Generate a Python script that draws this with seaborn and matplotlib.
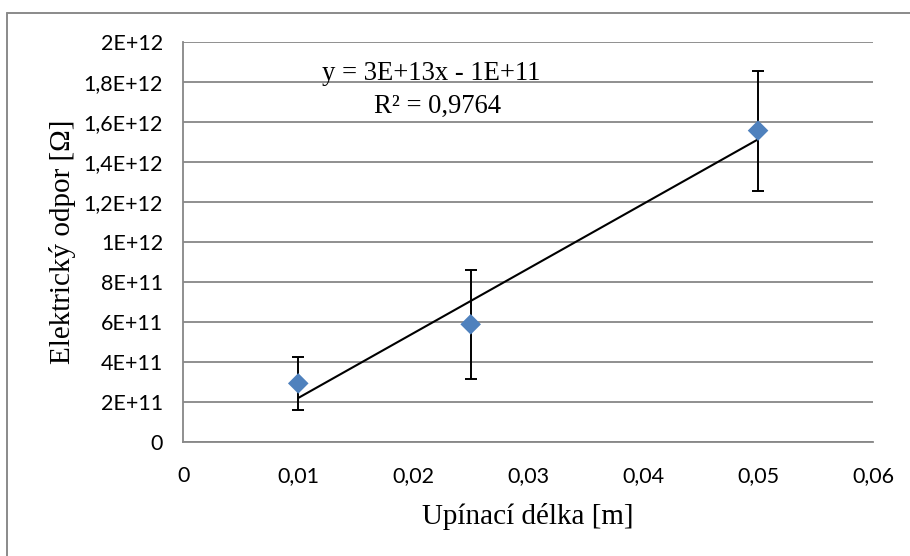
import numpy as np
import pandas as pd
import matplotlib
matplotlib.use("Agg")
import matplotlib.pyplot as plt
from matplotlib.lines import Line2D
import seaborn as sns

# Measured data: clamping length [m] vs. electrical resistance [Ohm]
clamp_length = [0.01, 0.025, 0.05]
resistance = [2.93e11, 5.885e11, 1.557e12]
resistance_err = [1.34e11, 2.72e11, 3.0e11]

x_ticks = [0, 0.01, 0.02, 0.03, 0.04, 0.05, 0.06]
y_ticks = [0, 2e11, 4e11, 6e11, 8e11, 1e12, 1.2e12, 1.4e12, 1.6e12, 1.8e12, 2e12]
y_tick_labels = ["0", "2E+11", "4E+11", "6E+11", "8E+11", "1E+12",
                 "1,2E+12", "1,4E+12", "1,6E+12", "1,8E+12", "2E+12"]
x_tick_labels = ["0", "0,01", "0,02", "0,03", "0,04", "0,05", "0,06"]

eq_text = "y = 3E+13x - 1E+11"
r2_text = "R² = 0,9764"
x_label = "Upínací délka [m]"
y_label = "Elektrický odpor [Ω]"

df = pd.DataFrame({"x": clamp_length, "y": resistance, "err": resistance_err})

sns.set_theme(style="white")
plt.rcParams["font.family"] = ["Lato", "DejaVu Sans"]

W, H = 910, 556
fig = plt.figure(figsize=(W / 100, H / 100), dpi=100)
fig.patch.set_facecolor("white")

# plot area in pixel coordinates
left, right, top, bottom = 183.3, 873.0, 42.0, 442.0
ax = fig.add_axes([left / W, 1 - bottom / H, (right - left) / W, (bottom - top) / H])

grid_col = "#878787"

# linear trendline from a least-squares fit of the measurements
slope, intercept = np.polyfit(df["x"], df["y"], 1)
xs = np.array([min(clamp_length), max(clamp_length)])
ax.plot(xs, slope * xs + intercept, color="black", lw=1.5, zorder=3)

ax.errorbar(df["x"], df["y"], yerr=df["err"], fmt="none", ecolor="black",
            elinewidth=1.4, capsize=4.5, capthick=1.4, zorder=4)

sns.scatterplot(data=df, x="x", y="y", marker="D", s=110, color="#4F81BD",
                edgecolor="none", linewidth=0, ax=ax, zorder=5)

ax.set_xlim(0, 0.06)
ax.set_ylim(0, 2e12)
ax.set_xticks(x_ticks)
ax.set_xticklabels(x_tick_labels)
ax.set_yticks(y_ticks)
ax.set_yticklabels(y_tick_labels)

ax.yaxis.grid(True, color=grid_col, lw=1.3)
ax.xaxis.grid(False)
ax.set_axisbelow(True)

for s in ["top", "right"]:
    ax.spines[s].set_visible(False)
for s in ["left", "bottom"]:
    ax.spines[s].set_color(grid_col)
    ax.spines[s].set_linewidth(1.3)

ax.tick_params(axis="both", which="major", direction="out", length=5.5,
               width=1.0, color=grid_col, labelsize=15.5, labelcolor="black")
ax.tick_params(axis="y", pad=9)
ax.tick_params(axis="x", pad=11.5)

serif = ["Liberation Serif", "DejaVu Serif"]
ax.set_xlabel(x_label, fontsize=21, family=serif, color="black")
ax.set_ylabel(y_label, fontsize=21, family=serif, color="black")
ax.xaxis.set_label_coords(0.5, (bottom - 516) / (bottom - top))
ax.xaxis.label.set_va("center")
ax.yaxis.set_label_coords((63 - left) / (right - left), 0.5)
ax.yaxis.label.set_va("center")

# trendline equation and coefficient of determination
ax.text((431 - left) / (right - left), (bottom - 73.5) / (bottom - top), eq_text,
        transform=ax.transAxes, ha="center", va="center", fontsize=19.2,
        family=serif, color="black")
ax.text((438 - left) / (right - left), (bottom - 106.5) / (bottom - top), r2_text,
        transform=ax.transAxes, ha="center", va="center", fontsize=19.2,
        family=serif, color="black")

# chart-area frame (top and left edges)
fig.add_artist(Line2D([7 / W, 1.0], [1 - 13 / H, 1 - 13 / H], transform=fig.transFigure,
                      color="#8a8a8a", lw=1.4))
fig.add_artist(Line2D([7 / W, 7 / W], [0.0, 1 - 13 / H], transform=fig.transFigure,
                      color="#8a8a8a", lw=1.4))

fig.savefig("out.png", dpi=100, facecolor="white")
